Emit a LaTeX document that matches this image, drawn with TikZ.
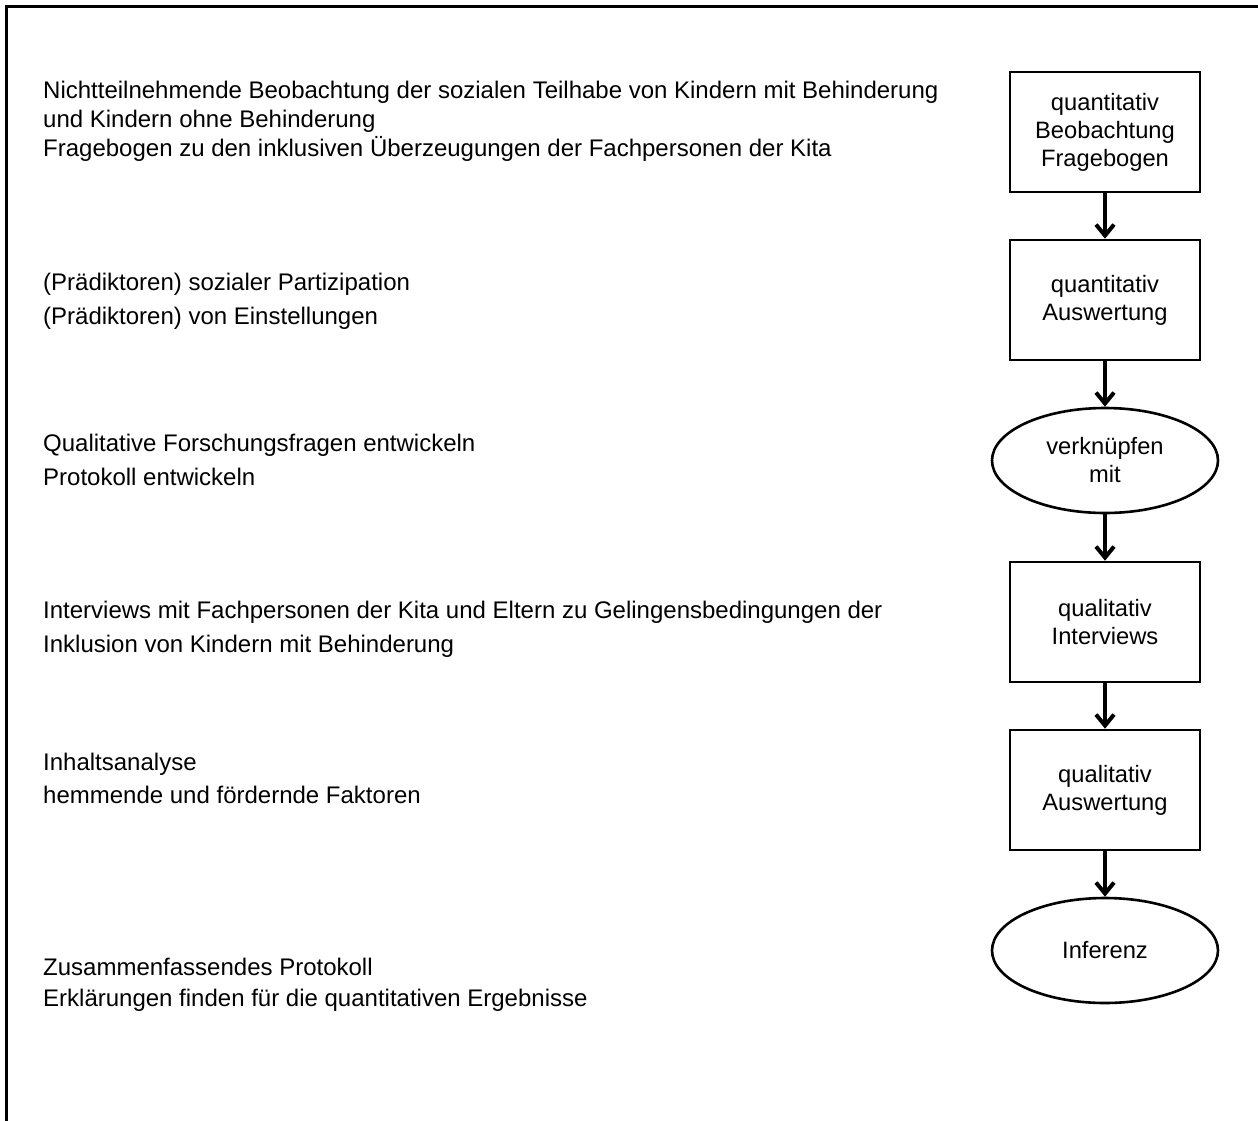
\documentclass[tikz,border=0pt]{standalone}
\usepackage{fontspec}
\setmainfont{Liberation Sans}
\usetikzlibrary{arrows.meta,shapes.geometric}
\tikzset{
  lefttext/.style={anchor=base west,inner sep=0pt,font=\fontsize{24}{29}\selectfont},
  stepbox/.style={draw,line width=2.6pt,minimum width=190pt,minimum height=120pt,align=center,inner sep=2pt,font=\fontsize{23.7}{28}\selectfont},
  oval/.style={draw,ellipse,line width=2.6pt,minimum width=226pt,minimum height=105pt,align=center,inner sep=0pt,font=\fontsize{23.7}{28}\selectfont},
  flow/.style={line width=4pt,-{Straight Barb[length=11pt,width=18pt,line width=4pt]}}
}
\begin{document}
\begin{tikzpicture}[x=1pt,y=-1pt]
\useasboundingbox (0,0) rectangle (1258,1121);
% frame
\coordinate (fr1) at (1258,6.5);
\coordinate (fr2) at (6.5,6.5);
\coordinate (fr3) at (6.5,1121);
\draw[line width=2.6pt] (fr1) -- (fr2) -- (fr3);
% left texts
\node[lefttext] (g1a) at (43,99) {Nichtteilnehmende Beobachtung der sozialen Teilhabe von Kindern mit Behinderung};
\node[lefttext] (g1b) at (43,128) {und Kindern ohne Behinderung};
\node[lefttext] (g1c) at (43,157) {Fragebogen zu den inklusiven Überzeugungen der Fachpersonen der Kita};
\node[lefttext] (g2a) at (43,290) {(Prädiktoren) sozialer Partizipation};
\node[lefttext] (g2b) at (43,324) {(Prädiktoren) von Einstellungen};
\node[lefttext] (g3a) at (43,451) {Qualitative Forschungsfragen entwickeln};
\node[lefttext] (g3b) at (43,485) {Protokoll entwickeln};
\node[lefttext] (g4a) at (43,618) {Interviews mit Fachpersonen der Kita und Eltern zu Gelingensbedingungen der};
\node[lefttext] (g4b) at (43,652) {Inklusion von Kindern mit Behinderung};
\node[lefttext] (g5a) at (43,770) {Inhaltsanalyse};
\node[lefttext] (g5b) at (43,803) {hemmende und fördernde Faktoren};
\node[lefttext] (g6a) at (43,975) {Zusammenfassendes Protokoll};
\node[lefttext] (g6b) at (43,1006) {Erklärungen finden für die quantitativen Ergebnisse};
% flow
\node[stepbox] (b1) at (1105,132) {quantitativ\\Beobachtung\\Fragebogen};
\node[stepbox] (b2) at (1105,300) {quantitativ\\Auswertung};
\node[oval] (e1) at (1105,460.5) {verknüpfen\\mit};
\node[stepbox] (b3) at (1105,622) {qualitativ\\Interviews};
\node[stepbox] (b4) at (1105,790) {qualitativ\\Auswertung};
\node[oval] (e2) at (1105,950.5) {Inferenz};
\draw[flow] (b1) -- (b2);
\draw[flow] (b2) -- (e1);
\draw[flow] (e1) -- (b3);
\draw[flow] (b3) -- (b4);
\draw[flow] (b4) -- (e2);
\end{tikzpicture}
\end{document}
